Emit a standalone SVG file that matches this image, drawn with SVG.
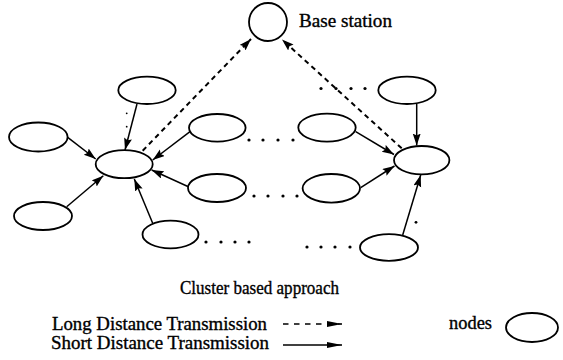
<svg xmlns="http://www.w3.org/2000/svg" width="563" height="360" viewBox="0 0 563 360">
<defs>
<style>
.n{fill:#fff;stroke:#000;stroke-width:1.8}
.s{stroke:#000;stroke-width:1.5;fill:none}
.d{stroke:#000;stroke-width:2;fill:none;stroke-dasharray:5 4}
.dot{fill:#000}
text{font-family:"Liberation Serif","Times New Roman",serif;font-size:18px;fill:#000;stroke:#000;stroke-width:0.35}
</style>
<marker id="ah" markerUnits="userSpaceOnUse" markerWidth="14" markerHeight="10" refX="12" refY="4" orient="auto">
<path d="M0,0 L12,4 L0,8 L2,4 z" fill="#000"/>
</marker>
<marker id="lh" markerUnits="userSpaceOnUse" markerWidth="17" markerHeight="8" refX="15" refY="3" orient="auto">
<path d="M0,0 L15,3 L0,6 z" fill="#000"/>
</marker>
</defs>
<rect width="563" height="360" fill="#fff"/>
<g id="connectors">
<line class="s" x1="137" y1="104" x2="125" y2="150" marker-end="url(#ah)"/>
<line class="s" x1="67.7" y1="137.3" x2="95.7" y2="159" marker-end="url(#ah)"/>
<line class="s" x1="66.7" y1="206.7" x2="103.3" y2="175.7" marker-end="url(#ah)"/>
<line class="s" x1="152.7" y1="223.3" x2="134.3" y2="179" marker-end="url(#ah)"/>
<line class="s" x1="190" y1="131.7" x2="152.7" y2="160" marker-end="url(#ah)"/>
<line class="s" x1="191.7" y1="188.3" x2="151.7" y2="170" marker-end="url(#ah)"/>
<line class="d" x1="142.7" y1="150.7" x2="251" y2="39" marker-end="url(#ah)"/>
<line class="d" x1="401.7" y1="148.3" x2="282" y2="39.5" marker-end="url(#ah)"/>
<line class="s" x1="416.7" y1="104" x2="416.7" y2="145.5" marker-end="url(#ah)"/>
<line class="s" x1="355.7" y1="131.7" x2="394" y2="154.5" marker-end="url(#ah)"/>
<line class="s" x1="360.7" y1="187.7" x2="394.5" y2="166" marker-end="url(#ah)"/>
<line class="s" x1="402.7" y1="235" x2="420.7" y2="175" marker-end="url(#ah)"/>
</g>
<g id="base-station">
<circle class="n" cx="268" cy="22" r="19"/>
<text x="299" y="27" textLength="93" lengthAdjust="spacingAndGlyphs">Base station</text>
</g>
<g id="node-a"><ellipse class="n" cx="147" cy="90.3" rx="28.7" ry="13.7"/></g>
<g id="node-b"><ellipse class="n" cx="38.3" cy="137" rx="29.3" ry="14.5"/></g>
<g id="node-c"><ellipse class="n" cx="43" cy="216" rx="29" ry="14"/></g>
<g id="node-d"><ellipse class="n" cx="170.5" cy="234.5" rx="28" ry="13.8"/></g>
<g id="cluster-head-left"><ellipse class="n" cx="124.2" cy="164.2" rx="28.5" ry="14"/></g>
<g id="node-e"><ellipse class="n" cx="217.3" cy="127.8" rx="28.3" ry="13.8"/></g>
<g id="node-f"><ellipse class="n" cx="327" cy="127.6" rx="28.7" ry="14"/></g>
<g id="node-g"><ellipse class="n" cx="217" cy="188" rx="29" ry="14"/></g>
<g id="node-h"><ellipse class="n" cx="331.3" cy="188.3" rx="28.7" ry="14.3"/></g>
<g id="node-i"><ellipse class="n" cx="407" cy="90.3" rx="28.7" ry="13.7"/></g>
<g id="cluster-head-right"><ellipse class="n" cx="421.7" cy="160.2" rx="27.7" ry="14.2"/></g>
<g id="node-j"><ellipse class="n" cx="389" cy="247.5" rx="29" ry="13.3"/></g>
<g id="dots">
<circle class="dot" cx="249" cy="140" r="1.6"/><circle class="dot" cx="263" cy="140" r="1.6"/><circle class="dot" cx="278" cy="140" r="1.6"/><circle class="dot" cx="293" cy="140" r="1.6"/>
<circle class="dot" cx="254" cy="196" r="1.6"/><circle class="dot" cx="268" cy="196" r="1.6"/><circle class="dot" cx="283" cy="196" r="1.6"/><circle class="dot" cx="297" cy="196" r="1.6"/>
<circle class="dot" cx="206" cy="242" r="1.6"/><circle class="dot" cx="221" cy="242" r="1.6"/><circle class="dot" cx="235" cy="242" r="1.6"/><circle class="dot" cx="249" cy="242" r="1.6"/>
<circle class="dot" cx="307" cy="247" r="1.6"/><circle class="dot" cx="321" cy="247" r="1.6"/><circle class="dot" cx="335" cy="247" r="1.6"/><circle class="dot" cx="350" cy="247" r="1.6"/>
<circle class="dot" cx="321" cy="88.5" r="1.6"/><circle class="dot" cx="336" cy="88.5" r="1.6"/><circle class="dot" cx="351" cy="88.5" r="1.6"/><circle class="dot" cx="365" cy="88.5" r="1.6"/>
<circle class="dot" cx="416" cy="222.3" r="1.4"/>
<circle class="dot" cx="126.7" cy="113.3" r="0.9"/><circle class="dot" cx="126.7" cy="126.7" r="0.9"/>
</g>
<g id="legend">
<text x="180" y="294" textLength="159" lengthAdjust="spacingAndGlyphs">Cluster based approach</text>
<text x="52" y="330" textLength="215" lengthAdjust="spacingAndGlyphs">Long Distance Transmission</text>
<text x="51" y="349" textLength="218" lengthAdjust="spacingAndGlyphs">Short Distance Transmission</text>
<line x1="283" y1="324" x2="342" y2="324" stroke="#000" stroke-width="1.6" stroke-dasharray="5.5 5.5" marker-end="url(#lh)"/>
<line x1="283" y1="345" x2="342" y2="345" stroke="#000" stroke-width="1.5" marker-end="url(#lh)"/>
<text x="449" y="329" textLength="43" lengthAdjust="spacingAndGlyphs">nodes</text>
<ellipse class="n" cx="532" cy="327.5" rx="26" ry="14.5"/>
</g>
</svg>
